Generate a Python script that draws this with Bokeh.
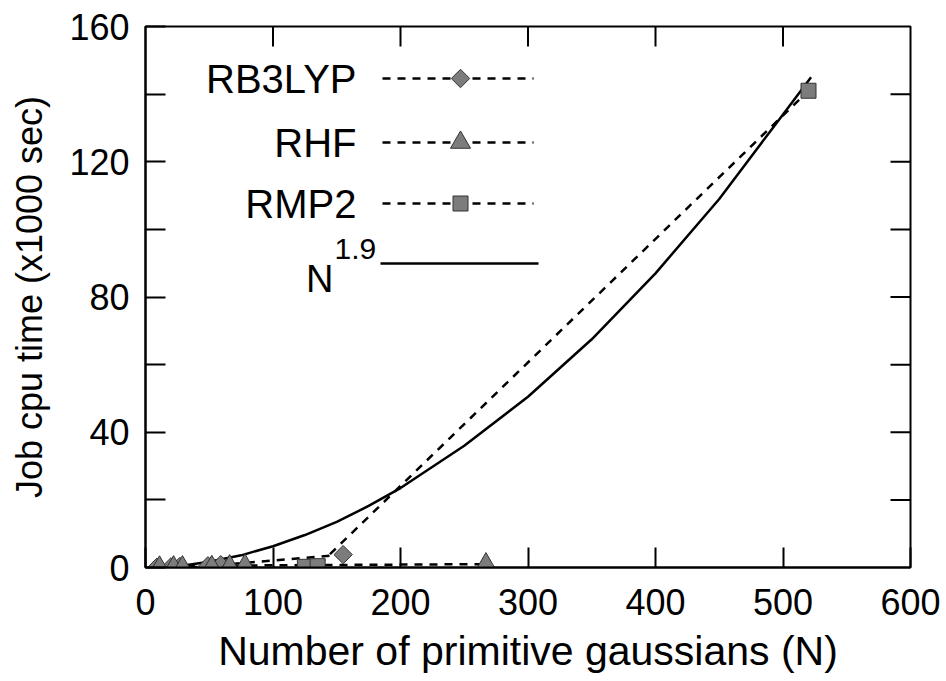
import numpy as np
from bokeh.plotting import figure
from bokeh.models import FixedTicker, Label, Range1d
from bokeh.embed import file_html
from bokeh.resources import INLINE

# ---- data (N, job cpu time in 1000 s) ----
rb3lyp_n = [9, 20, 27, 49, 59, 155]
rb3lyp_t = [0.1, 0.2, 0.3, 0.5, 0.8, 3.8]
rhf_n = [11, 22, 29, 52, 66, 78, 267]
rhf_t = [0.05, 0.1, 0.1, 0.2, 0.4, 0.6, 1.0]
rmp2_n = [125, 135, 520]
rmp2_t = [0.2, 0.4, 141]
fit_n = [10, 30, 50, 75, 100, 125, 150, 175, 200, 250, 300, 350, 400, 450, 500, 522]
fit_t = [0.1, 0.6, 1.7, 3.6, 6.3, 9.6, 13.5, 18.2, 23.5, 36.0, 50.5, 67.5, 87.0, 109.0, 134.0, 145.0]

x_ticks = [0, 100, 200, 300, 400, 500, 600]
y_ticks = [0, 40, 80, 120, 160]
y_minor = [20, 60, 100, 140]
series_names = ["RB3LYP", "RHF", "RMP2"]

FONT = "Liberation Sans"
FILL = "#7c7c7c"
EDGE = "#333333"
DASH = "8 7"

X0, X1, Y0, Y1 = 0, 600, 0, 160
# frame geometry (page pixels): left 145, right 910, top 26, bottom 567
W, H = 940, 677
BL, BR, BT, BB = 145, 30, 26, 110
fw, fh = W - BL - BR, H - BT - BB
px_x = (X1 - X0) / fw   # data units per pixel
px_y = (Y1 - Y0) / fh

p = figure(width=W, height=H, x_range=Range1d(X0, X1), y_range=Range1d(Y0, Y1),
           output_backend="svg", toolbar_location=None,
           min_border_left=BL, min_border_right=BR, min_border_top=BT, min_border_bottom=BB)
p.xgrid.grid_line_color = None
p.ygrid.grid_line_color = None
p.outline_line_color = "black"
p.outline_line_width = 2
p.background_fill_color = "white"
p.border_fill_color = "white"


def style_axis(ax, ticks, minor):
    ax.ticker = FixedTicker(ticks=ticks, minor_ticks=minor)
    ax.axis_line_color = "black"
    ax.axis_line_width = 2
    ax.major_tick_in = 20
    ax.major_tick_out = 0
    ax.major_tick_line_width = 2
    ax.minor_tick_in = 20
    ax.minor_tick_out = 0
    ax.minor_tick_line_width = 2
    ax.major_label_text_font = FONT
    ax.major_label_text_font_size = "36px"
    ax.major_label_text_color = "black"
    ax.axis_label_text_font = FONT
    ax.axis_label_text_font_style = "normal"
    ax.axis_label_text_color = "black"


style_axis(p.xaxis[0], x_ticks, [])
style_axis(p.yaxis[0], y_ticks, y_minor)
p.xaxis[0].major_label_standoff = 21
p.yaxis[0].major_label_standoff = 16
p.xaxis[0].axis_label = "Number of primitive gaussians (N)"
p.xaxis[0].axis_label_text_font_size = "41px"
p.xaxis[0].axis_label_standoff = 10
p.yaxis[0].axis_label = "Job cpu time (x1000 sec)"
p.yaxis[0].axis_label_text_font_size = "36px"
p.yaxis[0].axis_label_standoff = 16

# mirrored inward ticks on the top and right edges
tick_len = 20
top_x = [t for t in x_ticks if X0 < t < X1]
p.segment(x0=top_x, y0=[Y1] * len(top_x), x1=top_x, y1=[Y1 - tick_len * px_y] * len(top_x),
          line_color="black", line_width=2)
right_y = sorted([t for t in y_ticks + y_minor if Y0 < t < Y1])
p.segment(x0=[X1] * len(right_y), y0=right_y, x1=[X1 - tick_len * px_x] * len(right_y), y1=right_y,
          line_color="black", line_width=2)

# ---- series ----
p.line(fit_n, fit_t, line_color="black", line_width=2.5)
p.line(rb3lyp_n, rb3lyp_t, line_color="black", line_width=2.5, line_dash=DASH)
p.line(rhf_n, rhf_t, line_color="black", line_width=2.5, line_dash=DASH)
p.line(rmp2_n, rmp2_t, line_color="black", line_width=2.5, line_dash=DASH)

p.scatter(rb3lyp_n, rb3lyp_t, marker="square", angle=np.pi / 4, size=13,
          fill_color=FILL, line_color=EDGE, line_width=1)
p.scatter(rhf_n, rhf_t, marker="triangle", size=20,
          fill_color=FILL, line_color=EDGE, line_width=1)
p.scatter(rmp2_n, rmp2_t, marker="square", size=15,
          fill_color=FILL, line_color=EDGE, line_width=1)


# ---- hand-made legend (labels left of the keys), placed by page pixels ----
def dx(px):
    return X0 + (px - BL) * px_x


def dy(py):
    return Y0 + (BT + fh - py) * px_y


rows_py = [78, 142, 203]
markers = [dict(marker="square", angle=np.pi / 4, size=13),
           dict(marker="triangle", angle=0.0, size=20),
           dict(marker="square", angle=0.0, size=15)]
for name, py, mk in zip(series_names, rows_py, markers):
    p.line([dx(382), dx(533)], [dy(py), dy(py)], line_color="black", line_width=2.5, line_dash=DASH)
    p.scatter([dx(460)], [dy(py)], fill_color=FILL, line_color=EDGE, line_width=1, **mk)
    p.add_layout(Label(x=dx(356), y=dy(py), text=name, text_align="right", text_baseline="middle",
                       text_font=FONT, text_font_size="40px", text_color="black"))

p.line([dx(380), dx(538)], [dy(263), dy(263)], line_color="black", line_width=2.5)
p.add_layout(Label(x=dx(333), y=dy(278), text="N", text_align="right", text_baseline="alphabetic",
                   text_font=FONT, text_font_size="38px", text_color="black"))
p.add_layout(Label(x=dx(334), y=dy(248), text="1.9", text_align="left", text_baseline="middle",
                   text_font=FONT, text_font_size="30px", text_color="black"))

open("out.html", "w").write(file_html(p, INLINE))
